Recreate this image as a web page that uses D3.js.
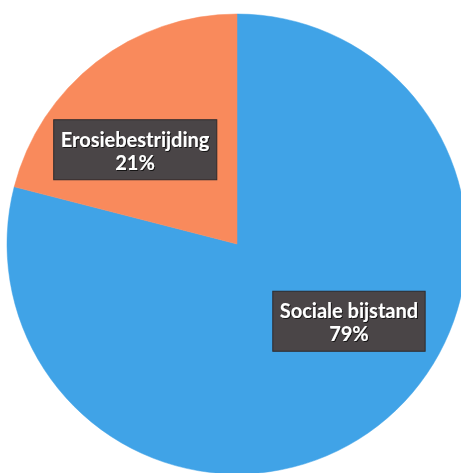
<!DOCTYPE html>
<html>
<head>
<meta charset="utf-8">
<script src="https://cdn.jsdelivr.net/npm/d3@7"></script>
<style>
  html, body { margin: 0; padding: 0; background: #fff; }
  svg { display: block; }
</style>
</head>
<body>
<div id="chart"></div>
<script>
const categories = ['Sociale bijstand', 'Erosiebestrijding'];
const shares = [79, 21];
const sliceColors = ['#40a3e7', '#f98a5c'];

// nudges for the label boxes (Excel "best fit" placement)
const labelNudge = [[28, -31], [-18, 14]];

const width = 461, height = 473;
const cx = 237, cy = 244, radius = 230;

const svg = d3.select('#chart').append('svg')
  .attr('width', width)
  .attr('height', height);

const defs = svg.append('defs');
const shadow = defs.append('filter').attr('id', 'txtShadow')
  .attr('x', '-20%').attr('y', '-20%').attr('width', '140%').attr('height', '140%');
shadow.append('feDropShadow')
  .attr('dx', 1).attr('dy', 1).attr('stdDeviation', 0.6)
  .attr('flood-color', '#000').attr('flood-opacity', 0.7);

const g = svg.append('g').attr('transform', `translate(${cx},${cy})`);

const pie = d3.pie().sort(null).value(d => d);
const arcs = pie(shares);

const arc = d3.arc().innerRadius(0).outerRadius(radius);
const labelArc = d3.arc().innerRadius(137).outerRadius(137);

g.selectAll('.slice')
  .data(arcs)
  .enter()
  .append('path')
  .attr('class', 'slice')
  .attr('d', arc)
  .attr('fill', (d, i) => sliceColors[i])
  .attr('stroke', (d, i) => sliceColors[i])
  .attr('stroke-width', 0.5);

const labels = g.selectAll('.label')
  .data(arcs)
  .enter()
  .append('g')
  .attr('class', 'label')
  .attr('transform', (d, i) => {
    const c = labelArc.centroid(d);
    return `translate(${c[0] + labelNudge[i][0]},${c[1] + labelNudge[i][1]})`;
  });

labels.each(function (d, i) {
  const lg = d3.select(this);
  const box = lg.append('rect').attr('fill', '#4a4547').attr('stroke', '#2e2a2c').attr('stroke-width', 1);
  const t = lg.append('text')
    .attr('text-anchor', 'middle')
    .attr('font-family', 'Lato, "Open Sans", sans-serif')
    .attr('font-weight', 'bold')
    .attr('font-size', '20px')
    .attr('fill', '#fff')
    .attr('filter', 'url(#txtShadow)');
  t.append('tspan').attr('x', 0).attr('y', -3).text(categories[i]);
  t.append('tspan').attr('x', 0).attr('y', 20).text(`${shares[i]}%`);

  const bb = t.node().getBBox();
  const padX = 7;
  box.attr('x', bb.x - padX)
    .attr('y', -30)
    .attr('width', bb.width + padX * 2)
    .attr('height', 60);
});
</script>
</body>
</html>
